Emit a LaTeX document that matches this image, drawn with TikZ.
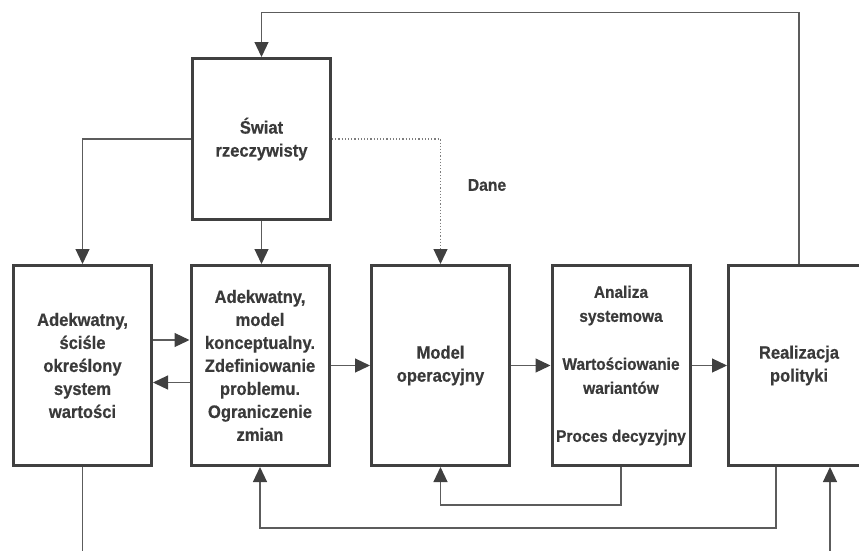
\documentclass[tikz,border=0pt]{standalone}
\usepackage{fontspec}
\setmainfont{Liberation Sans}[FakeStretch=0.92,BoldFeatures={FakeBold=0.6}]
\usetikzlibrary{arrows.meta}
\usetikzlibrary{calc}
\usetikzlibrary{positioning}

\definecolor{ramka}{HTML}{404040}
\definecolor{linia}{HTML}{5C5C5C}
\definecolor{napis}{HTML}{3A3A3A}

\begin{document}
\begin{tikzpicture}[x=1pt,y=-1pt,
  blok/.style={draw=ramka,line width=3pt,minimum width=138pt,minimum height=200pt,align=center,text=napis,font=\bfseries\fontsize{18}{23}\selectfont},
  strz/.style={draw=linia,line width=1.2pt,-{Triangle[length=15pt,width=14pt,color=ramka]}},
  lin/.style={draw=linia,line width=1.2pt},
  kropki/.style={draw=linia!80,line width=1.2pt,dotted,-{Triangle[length=15pt,width=14pt,color=ramka]}}]

\useasboundingbox (0,0) rectangle (859,550);

\node[blok,minimum height=161pt] (swiat) at (261.5,139) {Świat\\rzeczywisty};

\node[blok] (wartosci) at (82.5,365.5) {Adekwatny,\\ściśle\\określony\\system\\wartości};
\node[blok] (model) at (260,365.5) {Adekwatny,\\model\\konceptualny.\\Zdefiniowanie\\problemu.\\Ograniczenie\\zmian};
\node[blok] (operacyjny) at (440.5,365.5) {Model\\operacyjny};
\node[blok,font=\bfseries\fontsize{16.8}{24}\selectfont] (analiza) at (621,365.5) {Analiza\\systemowa\\[24pt]Wartościowanie\\wariantów\\[24pt]Proces decyzyjny};
\node[blok,minimum width=141pt] (realizacja) at (799,365.5) {Realizacja\\polityki};

\node[text=napis,font=\bfseries\fontsize{17}{20}\selectfont] (dane) at (487,185) {Dane};

\coordinate (gora) at (799,12.5);
\coordinate (wyjscie) at (82.5,555);
\coordinate (wejscie) at (830,555);

\draw[strz] (realizacja.north) -- (gora) -| (swiat.north);
\draw[strz] (swiat.west) -| (wartosci.north);
\draw[strz] (swiat.south) -- (swiat.south |- model.north);
\draw[kropki] (swiat.east) -| (operacyjny.north);

\draw[strz] ([yshift=25.5pt]wartosci.east) -- ([yshift=25.5pt]model.west);
\draw[strz] ([yshift=-17pt]model.west) -- ([yshift=-17pt]wartosci.east);
\draw[strz] (model) -- (operacyjny);
\draw[strz] (operacyjny) -- (analiza);
\draw[strz] (analiza) -- (realizacja);

\draw[strz] (analiza.south) -- ++(0,38) -| (operacyjny.south);
\draw[strz] ([xshift=-23pt]realizacja.south) -- ++(0,61) -| (model.south);

\draw[lin] (wartosci.south) -- (wyjscie);
\draw[strz] (wejscie) -- (wejscie |- realizacja.south);

\end{tikzpicture}
\end{document}
